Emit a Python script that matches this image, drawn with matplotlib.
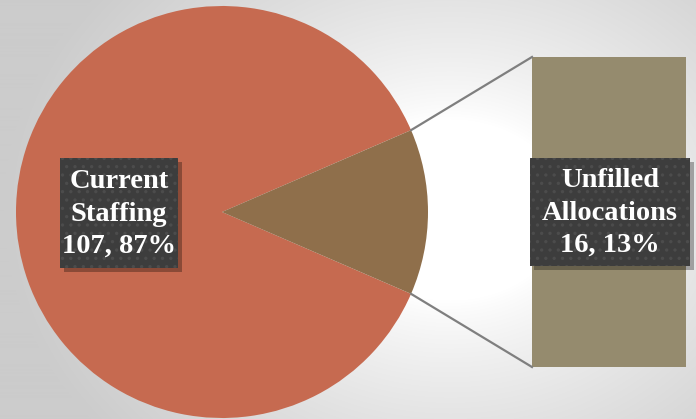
import numpy as np
import matplotlib
matplotlib.use('Agg')
import matplotlib.pyplot as plt
from matplotlib.patches import Rectangle

labels = ['Current\nStaffing', 'Unfilled\nAllocations']
counts = [107, 16]
pie_colors = ['#c66a50', '#8f6f4b']
bar_color = '#958b6e'

plt.rcParams['hatch.linewidth'] = 1.2

W, H = 696, 419
fig = plt.figure(figsize=(W / 100, H / 100), dpi=100)
ax = fig.add_axes([0, 0, 1, 1])

# background: soft radial gradient, light in the middle
yy, xx = np.mgrid[0:H, 0:W]
d = np.sqrt(((xx - 450) / 330.0) ** 2 + ((yy - 210) / 260.0) ** 2)
shade = 1.0 - 0.2 * np.clip(d - 0.35, 0, 1) ** 0.8
ax.imshow(np.dstack([shade] * 3), extent=(0, W, H, 0), zorder=0)

total = sum(counts)
share = counts[1] / total
half = 180 * share
cx, cy, r = 222, 212, 206

ax.pie(counts, colors=pie_colors, startangle=half, center=(cx, cy), radius=r,
       wedgeprops=dict(linewidth=0), frame=True)
ax.set_xlim(0, W)
ax.set_ylim(H, 0)
ax.axis('off')

# bar for the split-out slice
bx, bw, btop, bbot = 532, 154, 57, 367
ax.bar(bx + bw / 2, -(bbot - btop) * counts[1] / counts[1], bottom=bbot,
       width=bw, color=bar_color, zorder=3)

# connector lines
t = np.radians(half)
for s, by in [(-1, btop), (1, bbot)]:
    px = cx + r * np.cos(t)
    py = cy + s * r * np.sin(t)
    ax.plot([px, bx], [py, by], color='#7f7f7f', lw=1.6, zorder=4)

# label boxes
def label_box(x0, y0, w, h, text):
    ax.add_patch(Rectangle((x0 + 4, y0 + 4), w, h, facecolor='black',
                           alpha=0.3, lw=0, zorder=5))
    ax.add_patch(Rectangle((x0, y0), w, h, facecolor='#3d3d3d',
                           edgecolor='#4c4c4c', hatch='..', lw=0, zorder=6))
    ax.text(x0 + w / 2, y0 + h / 2 + 1, text, color='white', ha='center',
            va='center', fontsize=20.5, fontweight='bold',
            family='Liberation Serif', linespacing=1.38, zorder=7)

pcts = [round(100 * c / total) for c in counts]
label_box(60, 158, 118, 110, f'{labels[0]}\n{counts[0]}, {pcts[0]}%')
label_box(530, 158, 160, 108, f'{labels[1]}\n{counts[1]}, {pcts[1]}%')

fig.savefig('out.png', dpi=100)
